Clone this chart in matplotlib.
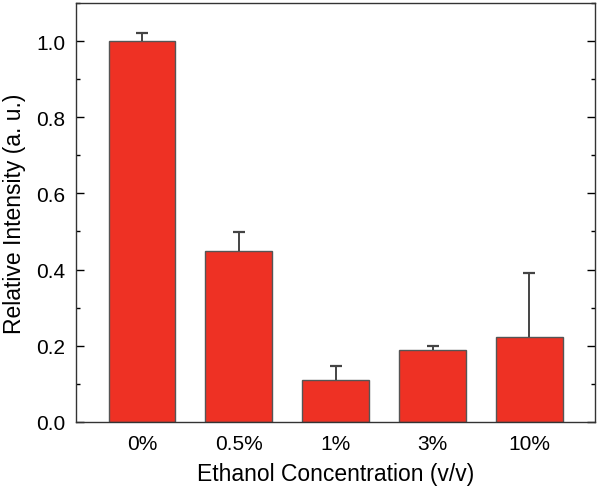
import numpy as np
import matplotlib
matplotlib.use('Agg')
import matplotlib.pyplot as plt
from matplotlib.ticker import MultipleLocator

plt.rcParams['font.family'] = ['Liberation Sans', 'DejaVu Sans']

# data
concentrations = ['0%', '0.5%', '1%', '3%', '10%']
intensity = [1.0, 0.448, 0.11, 0.19, 0.222]
errors = [0.021, 0.05, 0.036, 0.01, 0.17]

fig = plt.figure(figsize=(6, 4.89), dpi=100)
ax = fig.add_axes([0.127, 0.135, 0.865, 0.857])

x = np.arange(len(concentrations))
ax.bar(x, intensity, width=0.69, color='#ee3124', edgecolor='#555555', linewidth=1.0, zorder=2)

# upward-only error bars: stem + cap
tops = np.array(intensity) + np.array(errors)
ax.vlines(x, intensity, tops, color='#444444', linewidth=1.4, zorder=3)
ax.plot(x, tops, ls='none', marker='_', markersize=8, markeredgewidth=1.6,
        color='#444444', zorder=3)

ax.set_xlim(-0.68, 4.68)
ax.set_ylim(0, 1.1)
ax.set_xticks(x)
ax.set_xticklabels(concentrations)
ax.yaxis.set_major_locator(MultipleLocator(0.2))
ax.yaxis.set_minor_locator(MultipleLocator(0.1))
ax.tick_params(axis='y', which='both', direction='in', right=True, labelsize=15, pad=8)
ax.tick_params(axis='y', which='major', length=6, width=1)
ax.tick_params(axis='y', which='minor', length=3, width=1)
ax.tick_params(axis='x', length=0, labelsize=15, pad=9)
for s in ax.spines.values():
    s.set_color('#333333')
    s.set_linewidth(1.0)

ax.set_xlabel('Ethanol Concentration (v/v)', fontsize=16.5, labelpad=6)
ax.set_ylabel('Relative Intensity (a. u.)', fontsize=16.5, labelpad=7)

fig.savefig('out.png', dpi=100)
